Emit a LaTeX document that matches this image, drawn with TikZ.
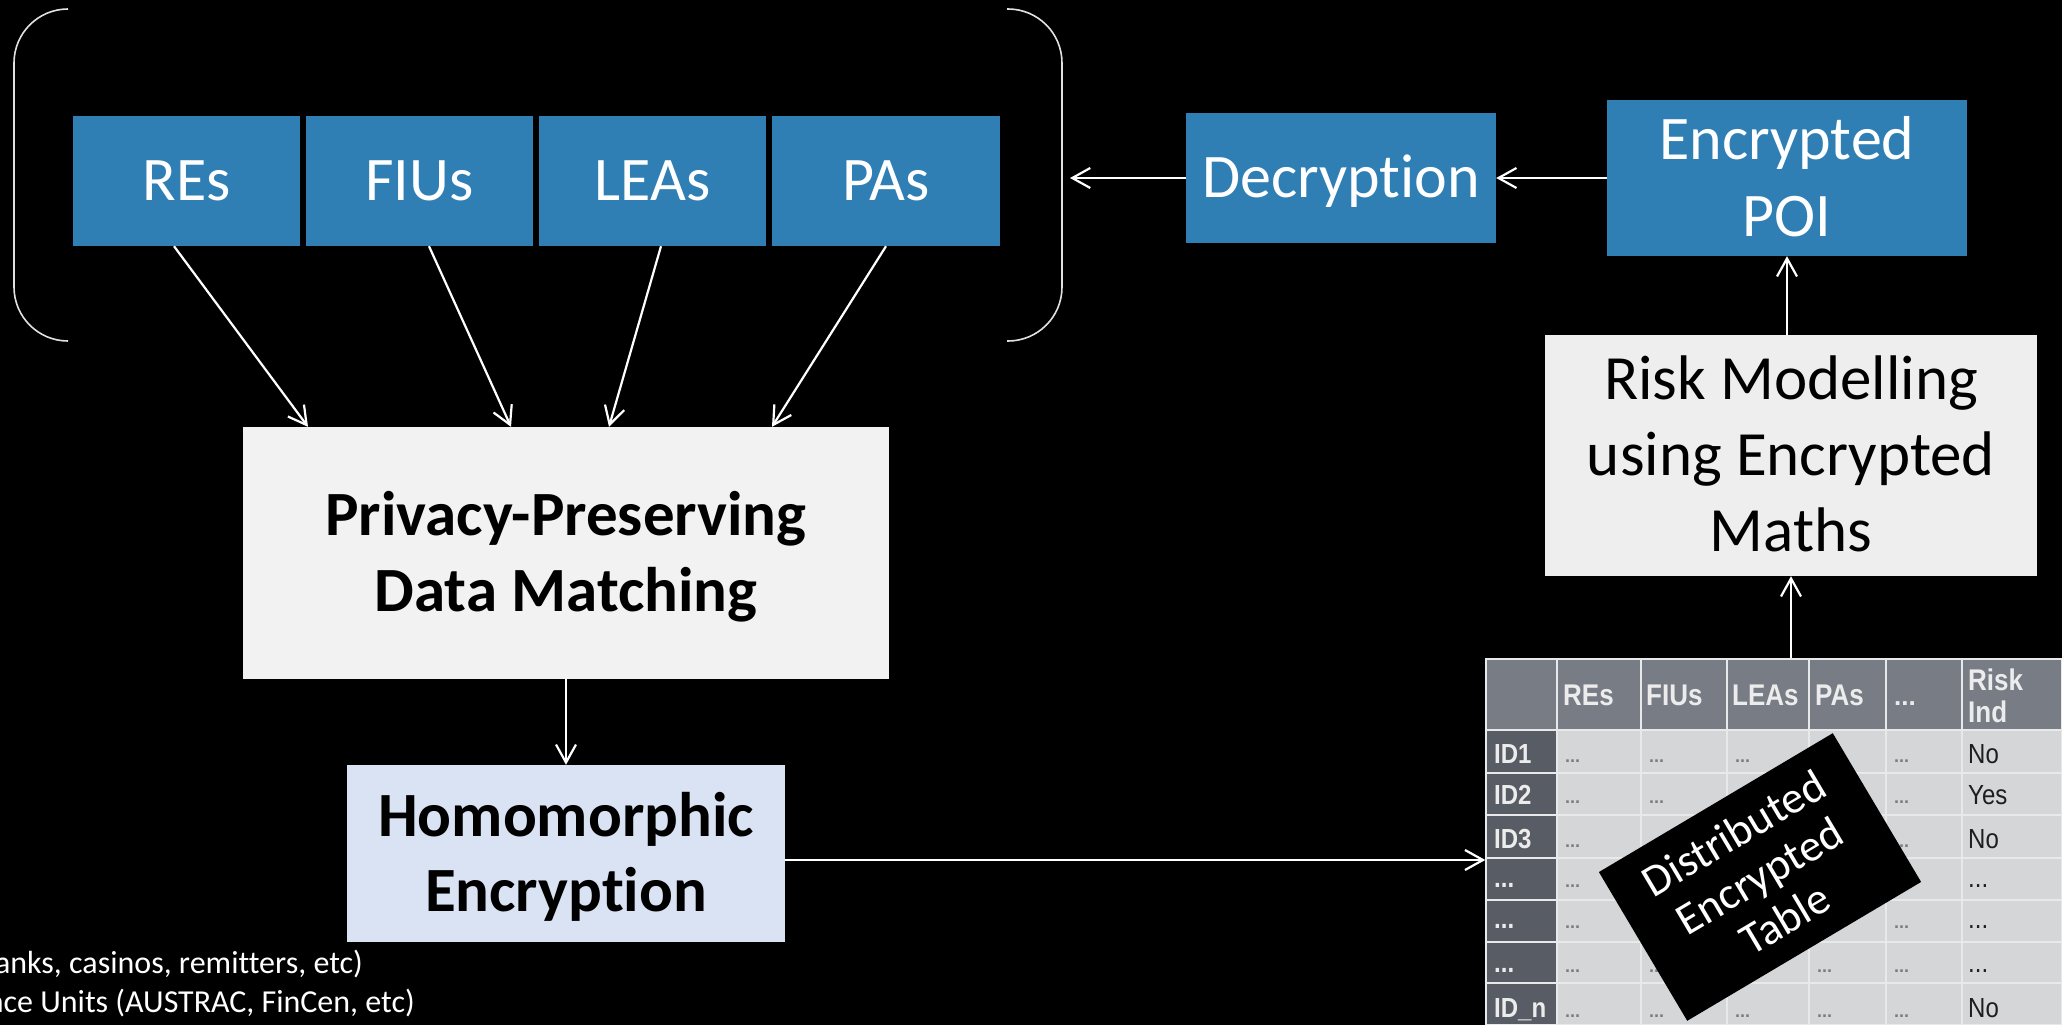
\documentclass[tikz,border=0pt]{standalone}
\usepackage{fontspec}
\setmainfont{Carlito}[Ligatures={NoCommon}]
\newfontfamily\tabfont{Liberation Sans}
\usetikzlibrary{arrows.meta,calc}
\definecolor{boxblue}{RGB}{47,127,180}
\definecolor{ppdmgray}{RGB}{242,242,242}
\definecolor{riskgray}{RGB}{238,238,238}
\definecolor{heblue}{RGB}{218,227,243}
\definecolor{brk}{RGB}{225,225,225}
\definecolor{thead}{RGB}{120,125,133}
\definecolor{tfirst}{RGB}{88,92,100}
\definecolor{tdata}{RGB}{212,214,216}
\definecolor{tline}{RGB}{232,233,235}
\definecolor{theadtext}{RGB}{236,236,236}
\definecolor{tdots}{RGB}{125,125,125}
\definecolor{tval}{RGB}{30,30,30}
\newcommand{\myellip}{...}
\newcommand{\tall}[1]{\scalebox{1}[1.15]{#1}}
\begin{document}
\begin{tikzpicture}[x=1pt,y=-1pt,
  bluebox/.style={fill=boxblue, text=white, inner sep=0pt, font=\fontsize{62}{76}\selectfont},
  lightbox/.style={inner sep=0pt, text=black, align=center},
  arr/.style={draw=white, line width=2.2pt, -{Straight Barb[length=18pt,width=20pt]}},
  bracket/.style={draw=brk, line width=1.6pt, rounded corners=54pt},
  thd/.style={font=\tabfont\bfseries\fontsize{26}{30}\selectfont, text=theadtext, anchor=base west, inner sep=0pt},
  tid/.style={font=\tabfont\bfseries\fontsize{24}{28}\selectfont, text=theadtext, anchor=base west, inner sep=0pt},
  tdot/.style={font=\tabfont\bfseries\fontsize{18}{20}\selectfont, text=tdots, anchor=base west, inner sep=0pt},
  tvl/.style={font=\tabfont\fontsize{24}{28}\selectfont, text=tval, anchor=base west, inner sep=0pt},
  note/.style={font=\fontsize{32}{39}\selectfont, text=white, anchor=base east, inner sep=0pt}]
\fill[black] (0,0) rectangle (2062,1025);
\useasboundingbox (0,0) rectangle (2062,1025);

% brackets
\draw[bracket] (68,9) -- (14,9) -- (14,341) -- (68,341);
\draw[bracket] (1007,9) -- (1062,9) -- (1062,341) -- (1007,341);
\coordinate (brkin) at (1070,178);

% top blue boxes
\node[bluebox, minimum width=227pt, minimum height=130pt, text height=38pt, text depth=0pt] (res) at (186.5,181) {REs};
\node[bluebox, minimum width=227pt, minimum height=130pt, text height=38pt, text depth=0pt] (fius) at (419.5,181) {FIUs};
\node[bluebox, minimum width=227pt, minimum height=130pt, text height=38pt, text depth=0pt] (leas) at (652.5,181) {LEAs};
\node[bluebox, minimum width=228pt, minimum height=130pt, text height=38pt, text depth=0pt] (pas) at (886,181) {PAs};

\node[bluebox, minimum width=310pt, minimum height=130pt, text height=39pt, text depth=0pt] (dec) at (1341,178) {Decryption};
\node[bluebox, align=center, minimum width=360pt, minimum height=156pt, font=\fontsize{62}{77}\selectfont] (poi) at (1787,178) {\rule{0pt}{39pt}\smash{Encrypted}\\\smash{POI}};

% light boxes
\node[lightbox, fill=riskgray, minimum width=492pt, minimum height=241pt, font=\fontsize{63}{76}\selectfont] (risk) at (1791,455.5) {\rule{0pt}{40pt}\smash{Risk Modelling}\\\smash{using Encrypted}\\\smash{Maths}};
\node[lightbox, fill=ppdmgray, minimum width=646pt, minimum height=252pt, font=\bfseries\fontsize{63}{76}\selectfont] (ppdm) at (566,553) {\rule{0pt}{40pt}\smash{Privacy-Preserving}\\\smash{Data Matching}};
\node[lightbox, fill=heblue, minimum width=438pt, minimum height=177pt, font=\bfseries\fontsize{63}{75}\selectfont] (he) at (566,853.5) {\rule{0pt}{40pt}\smash{Homomorphic}\\\smash{Encryption}};

% table
\fill[thead] (1486,659) rectangle (2062,730);
\fill[tfirst] (1486,730) rectangle (1557,1025);
\fill[tdata] (1557,730) rectangle (2062,1025);
\foreach \x in {1557,1641,1727,1809,1886,1962}
  \draw[tline, line width=1.5pt] (\x,659) -- (\x,1025);
\foreach \y in {730,773,815,858,900,942,983}
  \draw[tline, line width=1.5pt] (1486,\y) -- (2062,\y);
\node[draw=tline, line width=1.5pt, inner sep=0pt, minimum width=576pt, minimum height=366pt] (tbl) at (1774,842) {};

\node[thd] (hres) at (1563,705) {\tall{REs}};
\node[thd] (hfius) at (1646,705) {\tall{FIUs}};
\node[thd] (hleas) at (1732,705) {\tall{LEAs}};
\node[thd] (hpas) at (1815,705) {\tall{PAs}};
\node[thd] (hdots) at (1894,705) {\myellip};
\node[thd] (hrisk) at (1968,690) {\tall{Risk}};
\node[thd] (hind) at (1968,722) {\tall{Ind}};

\foreach \i/\y/\t in {1/763/ID1,2/804/ID2,3/848/ID3,4/887/\myellip,5/928/\myellip,6/972/\myellip,7/1017/ID\_n}
  \node[tid] (id\i) at (1494,\y) {\tall{\t}};
\foreach \i/\y in {1/762,2/803,3/847,4/887,5/928,6/972,7/1017}
  \foreach \j/\x in {1/1565,2/1649,3/1735,4/1817,5/1894}
    \node[tdot] (d\i\j) at (\x,\y) {\myellip};
\foreach \i/\y/\t in {1/763/No,2/804/Yes,3/848/No,4/887/\myellip,5/928/\myellip,6/972/\myellip,7/1017/No}
  \node[tvl] (v\i) at (1968,\y) {\tall{\t}};

\node[fill=black, rotate=30.7, inner sep=0pt, minimum width=272pt, minimum height=173pt, text=white, align=center, font=\fontsize{45}{50}\selectfont] (dist) at (1760,877) {\rule{0pt}{28pt}\smash{Distributed}\\\smash{Encrypted}\\\smash{Table}};

% notes
\node[note] (note1) at (363,973) {anks, casinos, remitters, etc)};
\node[note] (note2) at (415,1012) {nce Units (AUSTRAC, FinCen, etc)};

% connectors
\coordinate (heout) at ($(he.east)+(0,6.5)$);
\draw[arr] ($(res.south)+(-12.5,0)$) -- ($(ppdm.north)+(-258,0)$);
\draw[arr] ($(fius.south)+(9.5,0)$) -- ($(ppdm.north)+(-55,0)$);
\draw[arr] ($(leas.south)+(8.5,0)$) -- ($(ppdm.north)+(43,0)$);
\draw[arr] (pas.south) -- ($(ppdm.north)+(206,0)$);
\draw[arr] (ppdm.south) -- (he.north);
\draw[arr] (heout) -- (heout -| tbl.west);
\draw[arr] (risk.south |- tbl.north) -- (risk.south);
\draw[arr] (poi.south |- risk.north) -- (poi.south);
\draw[arr] (poi.west) -- (dec.east);
\draw[arr] (dec.west) -- (brkin);
\end{tikzpicture}
\end{document}
